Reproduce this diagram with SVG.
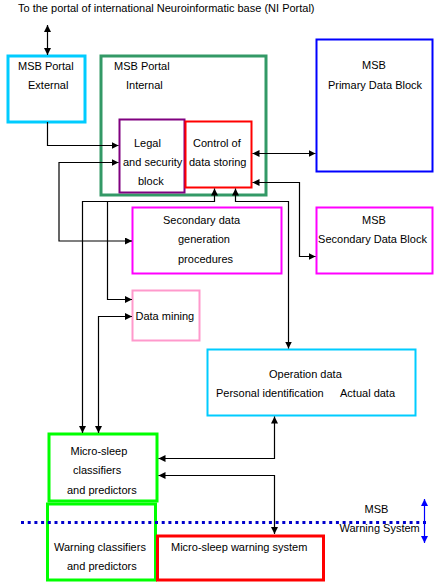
<svg xmlns="http://www.w3.org/2000/svg" width="441" height="584" viewBox="0 0 441 584">
<style>
text{font-family:"Liberation Sans",Arial,sans-serif;font-size:11px;fill:#000}
.b{fill:none}
.c{fill:none;stroke:#000;stroke-width:1.2;marker-start:url(#ah);marker-end:url(#ah)}
.e{fill:none;stroke:#000;stroke-width:1.2;marker-end:url(#ah)}
</style>
<defs>
<marker id="ah" markerUnits="userSpaceOnUse" markerWidth="8" markerHeight="8" refX="7" refY="3.5" orient="auto-start-reverse"><path d="M0,0 L7,3.5 L0,7 Z" fill="#000"/></marker>
<marker id="bh" markerUnits="userSpaceOnUse" markerWidth="8" markerHeight="8" refX="7" refY="3.5" orient="auto-start-reverse"><path d="M0,0 L7,3.5 L0,7 Z" fill="#0000FF"/></marker>
</defs>
<rect width="441" height="584" fill="#fff"/>
<text x="18" y="12">To the portal of international Neuroinformatic base (NI Portal)</text>

<g id="msb-portal-internal"><rect class="b" x="101" y="56" width="165" height="139" stroke="#339966" stroke-width="3"/><text x="114" y="70">MSB Portal</text><text x="126" y="89">Internal</text></g>
<g id="msb-portal-external"><rect class="b" x="8" y="56" width="77" height="66" stroke="#00CCFF" stroke-width="3"/><text x="18" y="70">MSB Portal</text><text x="28" y="89">External</text></g>
<g id="legal-security"><rect class="b" x="119.5" y="119.5" width="65" height="73" stroke="#800080" stroke-width="2"/><text x="134" y="147">Legal</text><text x="123" y="166">and security</text><text x="138" y="185">block</text></g>
<g id="control-storing"><rect class="b" x="185.5" y="121.5" width="66" height="66" stroke="#FF0000" stroke-width="2"/><text x="193" y="147">Control of</text><text x="189" y="166">data storing</text></g>
<g id="primary-data"><rect class="b" x="316.5" y="39.5" width="116" height="132" stroke="#0000FF" stroke-width="2"/><text x="374" y="69" text-anchor="middle">MSB</text><text x="375" y="89" text-anchor="middle">Primary Data Block</text></g>
<g id="secondary-data-block"><rect class="b" x="316.5" y="207.5" width="116" height="66" stroke="#FF00FF" stroke-width="2"/><text x="374" y="224" text-anchor="middle">MSB</text><text x="372.5" y="243" text-anchor="middle">Secondary Data Block</text></g>
<g id="secondary-gen"><rect class="b" x="132.5" y="207.5" width="149" height="66" stroke="#FF00FF" stroke-width="2"/><text x="163" y="224">Secondary data</text><text x="178" y="243">generation</text><text x="178" y="262.5">procedures</text></g>
<g id="data-mining"><rect class="b" x="132.5" y="290.5" width="67" height="50" stroke="#FF99CC" stroke-width="2"/><text x="135.5" y="320">Data mining</text></g>
<g id="operation-data"><rect class="b" x="207.5" y="349.5" width="208" height="66" stroke="#00CCFF" stroke-width="2"/><text x="269" y="377.5">Operation data</text><text x="216" y="397">Personal identification</text><text x="340" y="397">Actual data</text></g>
<g id="micro-sleep-classifiers"><rect class="b" x="49" y="434" width="108" height="67" stroke="#00FF00" stroke-width="3"/><text x="70.5" y="455">Micro-sleep</text><text x="73" y="474">classifiers</text><text x="67" y="493.5">and predictors</text></g>
<g id="warning-classifiers"><rect class="b" x="47.5" y="504" width="108" height="76" stroke="#00FF00" stroke-width="3"/><text x="54" y="551">Warning classifiers</text><text x="67" y="570">and predictors</text></g>
<g id="warning-system"><rect class="b" x="157.5" y="536" width="166" height="44" stroke="#FF0000" stroke-width="3"/><text x="171" y="551">Micro-sleep warning system</text></g>

<g id="boundary">
<line x1="21" y1="522.5" x2="426" y2="522.5" stroke="#0000CC" stroke-width="3" stroke-dasharray="3 3.7"/>
<text x="364.5" y="512.5">MSB</text><text x="339.5" y="531.5">Warning System</text>
<path d="M424.5 499 V543" fill="none" stroke="#0000FF" stroke-width="1.2" marker-start="url(#bh)" marker-end="url(#bh)"/>
</g>

<g id="connectors">
<path class="c" d="M47.5 25 V55"/>
<path class="e" d="M47.5 122 V145.5 H118.5"/>
<path class="c" d="M118.5 162.5 H59 V241 H132"/>
<path class="c" d="M214.5 188.5 V201.5 H82.5 V433"/>
<path class="e" d="M107.5 201.5 V299.5 H132"/>
<path class="c" d="M132 316.5 H98.5 V433"/>
<path class="c" d="M235.5 188.5 V201.5 H288.5 V348.5"/>
<path class="c" d="M252.5 153.5 H315.5"/>
<path class="c" d="M252.5 182.5 H299.5 V256.5 H315.5"/>
<path class="c" d="M274.5 416.5 V458.5 H158.5"/>
<path class="c" d="M158.5 475.5 H274.5 V534"/>
</g>
</svg>
